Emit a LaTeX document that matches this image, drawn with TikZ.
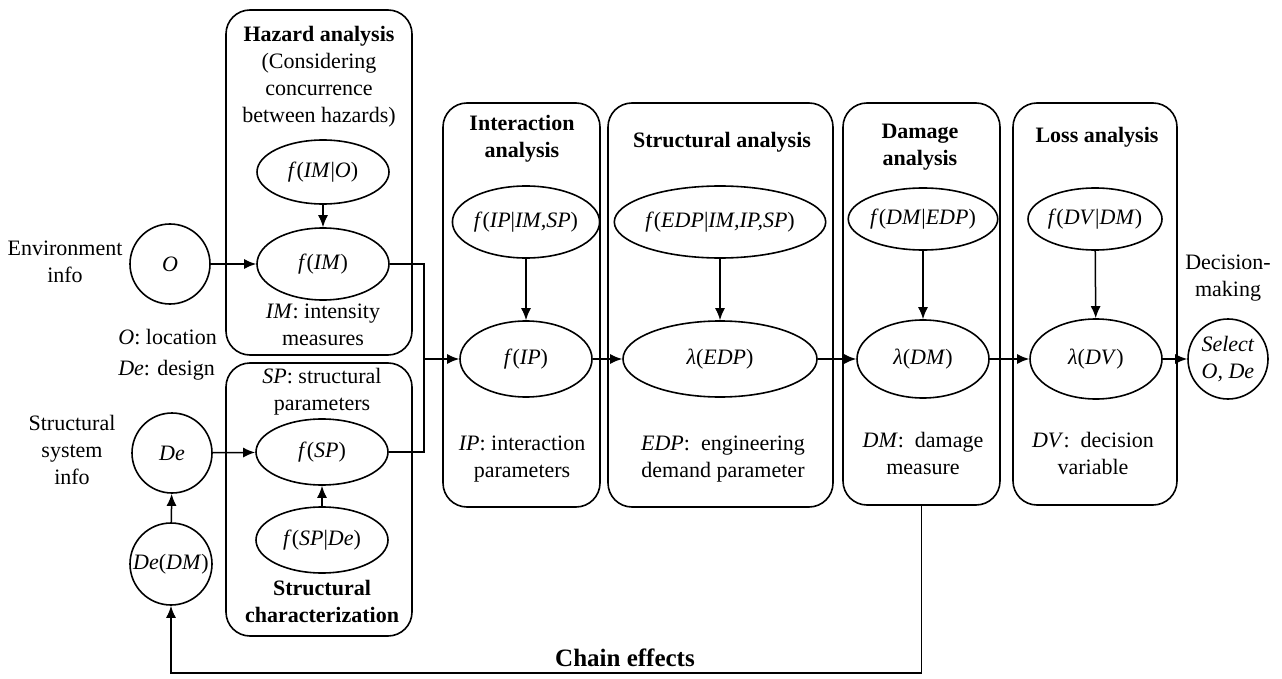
\documentclass[tikz,border=0pt]{standalone}
\usepackage{fontspec}
\setmainfont{Liberation Serif}
\usetikzlibrary{shapes.geometric,arrows.meta}
\newcommand{\iv}[1]{\textit{#1}}
\begin{document}
\begin{tikzpicture}[x=1pt,y=-1pt,
 every node/.style={font=\fontsize{22}{27}\selectfont, align=center, inner sep=0pt},
 box/.style={draw, line width=1.6pt, rounded corners=24pt},
 ell/.style={draw, ellipse, line width=1.6pt, inner sep=0pt},
 circ/.style={draw, circle, line width=1.6pt, inner sep=0pt, minimum size=80pt},
 arr/.style={line width=1.5pt, -{Latex[length=12pt,width=10pt]}},
 ln/.style={line width=1.5pt},
 ttl/.style={font=\fontsize{22}{27}\selectfont\bfseries},
]
\useasboundingbox (0,0) rectangle (1282,679);

% boxes
\node[box, minimum width=186pt, minimum height=345pt] (hazbox) at (319,182.5) {};
\node[box, minimum width=186pt, minimum height=273pt] (scbox) at (319,499.5) {};
\node[box, minimum width=157pt, minimum height=404pt] (intbox) at (521.5,305) {};
\node[box, minimum width=225pt, minimum height=404pt] (sabox) at (720.5,305) {};
\node[box, minimum width=157pt, minimum height=402pt] (dambox) at (921.5,304) {};
\node[box, minimum width=164pt, minimum height=402pt] (lossbox) at (1095,304) {};

% ellipses
\node[ell, minimum width=132pt, minimum height=64pt] (fIMO) at (323,172) {\iv{f}(\iv{IM}|\iv{O})};
\node[ell, minimum width=132pt, minimum height=72pt] (fIM) at (323,264) {\iv{f}(\iv{IM})};
\node[ell, minimum width=132pt, minimum height=66pt] (fSP) at (322,452) {\iv{f}(\iv{SP})};
\node[ell, minimum width=132pt, minimum height=66pt] (fSPDe) at (322,540) {\iv{f}(\iv{SP}|\iv{De})};
\node[ell, minimum width=132pt, minimum height=72pt] (fIPc) at (526,222) {\iv{f}(\iv{IP}|\iv{IM,SP})};
\node[ell, minimum width=132pt, minimum height=76pt] (fIP) at (526,359) {\iv{f}(\iv{IP})};
\node[ell, minimum width=194pt, minimum height=72pt] (fEDPc) at (720,222) {\iv{f}(\iv{EDP}|\iv{IM,IP,SP})};
\node[ell, minimum width=194pt, minimum height=76pt] (lEDP) at (720,359) {\iv{λ}(\iv{EDP})};
\node[ell, minimum width=132pt, minimum height=62pt] (fDMc) at (923,219) {\iv{f}(\iv{DM}|\iv{EDP})};
\node[ell, minimum width=132pt, minimum height=78pt] (lDM) at (923,359) {\iv{λ}(\iv{DM})};
\node[ell, minimum width=134pt, minimum height=62pt] (fDVc) at (1095,219) {\iv{f}(\iv{DV}|\iv{DM})};
\node[ell, minimum width=132pt, minimum height=80pt] (lDV) at (1096,359) {\iv{λ}(\iv{DV})};

% circles
\node[circ] (O) at (170,264) {\iv{O}};
\node[circ] (De) at (172,453) {\iv{De}};
\node[circ, minimum size=82pt] (DeDM) at (171,564) {\iv{De}(\iv{DM})};
\node[circ] (Sel) at (1228,359) {\iv{Select}\\\iv{O, De}};

% texts
\node (hazt) at (319,77) {\textbf{Hazard analysis}\\(Considering\\concurrence\\between hazards)};
\node (env) at (65,262) {Environment\\info};
\node[align=right, anchor=east] (loc) at (217,337) {\iv{O}: location};
\node[align=right, anchor=east] (des) at (215,370) {\iv{De}: design};
\node (imt) at (323,325) {\iv{IM}: intensity\\measures};
\node (spt) at (322,392) {\iv{SP}: structural\\parameters};
\node[ttl] (sct) at (322,601) {Structural\\characterization};
\node (ssi) at (72,450) {Structural\\system\\info};
\node[ttl] (intt) at (522,139) {Interaction\\analysis};
\node (ipt) at (522,459) {\iv{IP}: interaction\\parameters};
\node[ttl] (sat) at (722,142) {Structural analysis};
\node (edpt) at (723,459) {\iv{EDP}:\ \ engineering\\demand parameter};
\node[ttl] (damt) at (920,147) {Damage\\analysis};
\node (dmt) at (923,453) {\iv{DM}:\ \ damage\\measure};
\node[ttl] (losst) at (1097,137) {Loss analysis};
\node (dvt) at (1093,453) {\iv{DV}:\ \ decision\\variable};
\node (dect) at (1228,278) {Decision-\\making};
\node[font=\fontsize{25}{28}\selectfont\bfseries] (chain) at (625,658) {Chain effects};

% connectors
\draw[arr] (O) -- (fIM);
\draw[arr] (De) -- (fSP);
\draw[arr] (fIMO) -- (fIM);
\draw[arr] (fSPDe) -- (fSP);
\draw[arr] (DeDM) -- (De);
\coordinate (m) at (424,359);
\draw[ln] (fIM.east) -| (m);
\draw[ln] (fSP.east) -| (m);
\draw[arr] (m) -- (fIP.west);
\draw[arr] (fIPc) -- (fIP);
\draw[arr] (fEDPc) -- (lEDP);
\draw[arr] (fDMc) -- (lDM);
\draw[arr] (fDVc) -- (lDV);
\draw[arr] (fIP) -- (lEDP);
\draw[arr] (lEDP) -- (lDM);
\draw[arr] (lDM) -- (lDV);
\draw[arr] (lDV) -- (Sel);
\coordinate (chainy) at (0,673);
\draw[arr] (dambox.south) -- (dambox.south |- chainy) -| (DeDM.south);
\end{tikzpicture}
\end{document}
